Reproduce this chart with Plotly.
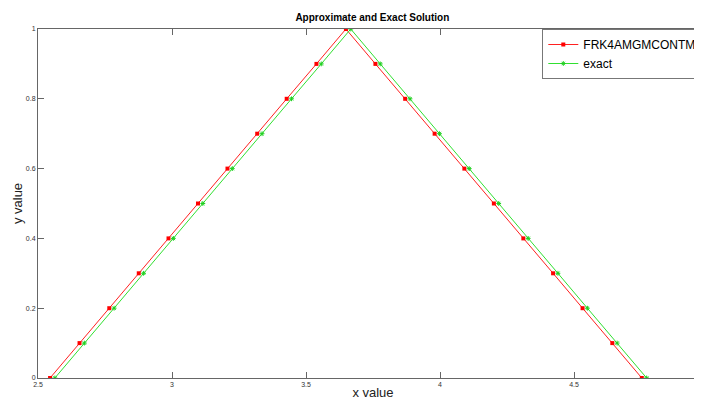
import plotly.graph_objects as go

approx_x = [2.545, 2.655, 2.766, 2.876, 2.987, 3.097, 3.207, 3.318, 3.428, 3.539, 3.649,
            3.759, 3.870, 3.980, 4.091, 4.201, 4.311, 4.422, 4.532, 4.643, 4.753]
approx_y = [0, 0.1, 0.2, 0.3, 0.4, 0.5, 0.6, 0.7, 0.8, 0.9, 1.0,
            0.9, 0.8, 0.7, 0.6, 0.5, 0.4, 0.3, 0.2, 0.1, 0]
exact_x = [2.563, 2.673, 2.784, 2.894, 3.005, 3.115, 3.225, 3.336, 3.446, 3.557, 3.667,
           3.777, 3.888, 3.998, 4.109, 4.219, 4.329, 4.440, 4.550, 4.661, 4.771]
exact_y = [0, 0.1, 0.2, 0.3, 0.4, 0.5, 0.6, 0.7, 0.8, 0.9, 1.0,
           0.9, 0.8, 0.7, 0.6, 0.5, 0.4, 0.3, 0.2, 0.1, 0]
x_ticks = [2.5, 3, 3.5, 4, 4.5]
x_tick_labels = ["2.5", "3", "3.5", "4", "4.5"]
y_ticks = [0, 0.2, 0.4, 0.6, 0.8, 1]
y_tick_labels = ["0", "0.2", "0.4", "0.6", "0.8", "1"]

fig = go.Figure()
fig.add_trace(go.Scatter(x=approx_x, y=approx_y, mode="lines+markers", name="FRK4AMGMCONTM",
                         line=dict(color="#ff2020", width=1),
                         marker=dict(symbol="square", size=4, color="#ff0000")))
fig.add_trace(go.Scatter(x=exact_x, y=exact_y, mode="lines+markers", name="exact",
                         line=dict(color="#30e030", width=1),
                         marker=dict(symbol="asterisk-open", size=4, color="#20d020",
                                     line=dict(color="#20d020", width=1))))

fig.update_layout(
    width=702, height=400,
    margin=dict(l=30, r=2, t=21, b=30, autoexpand=False),
    plot_bgcolor="white", paper_bgcolor="white",
    font=dict(family="Liberation Sans, Arial, sans-serif", color="#222"),
    title=dict(text="<b>Approximate and Exact Solution</b>", x=0.519, xanchor="center",
               y=0.977, yanchor="middle", font=dict(size=10, color="#000")),
    showlegend=True,
    legend=dict(x=0.99, y=1, xanchor="right", yanchor="top", bgcolor="white",
                bordercolor="#777", borderwidth=1, itemwidth=30,
                font=dict(size=12, color="#000"), tracegroupgap=0),
    xaxis=dict(range=[2.5, 5.0], tickvals=x_ticks, ticktext=x_tick_labels,
               showgrid=False, zeroline=False, showline=True, linecolor="#666", linewidth=1,
               mirror="ticks", ticks="inside", ticklen=6, tickcolor="#666",
               tickfont=dict(size=7, color="#333"), automargin=False,
               title=dict(text="x value", font=dict(size=13, color="#222"), standoff=0)),
    yaxis=dict(range=[0, 1], tickvals=y_ticks, ticktext=y_tick_labels,
               showgrid=False, zeroline=False, showline=True, linecolor="#666", linewidth=1,
               mirror=False, ticks="inside", ticklen=6, tickcolor="#666",
               tickfont=dict(size=7, color="#333"), automargin=False,
               title=dict(text="y value", font=dict(size=13, color="#222"), standoff=0)),
)

fig.write_html("out.html")
